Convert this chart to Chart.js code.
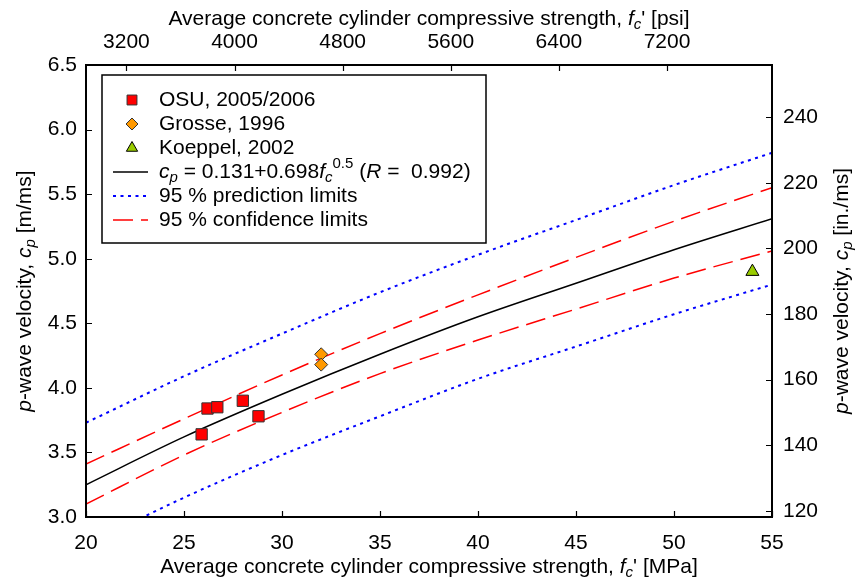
<!DOCTYPE html>
<html>
<head>
<meta charset="utf-8">
<script src="https://cdn.jsdelivr.net/npm/chart.js@4"></script>
<style>
  html, body { margin: 0; padding: 0; background: #fff; }
</style>
</head>
<body>
<canvas id="chart" width="856" height="578"></canvas>
<script>
const FONT = "'Liberation Sans', Arial, sans-serif";
const FONT_SIZE = 21;
const PSI_PER_MPA = 145.038;
const IN_PER_M = 39.3701;

// measured p-wave velocities
const osuStrength = [25.9, 26.2, 26.7, 28.0, 28.8];
const osuVelocity = [3.64, 3.84, 3.85, 3.90, 3.78];
const grosseStrength = [32.0, 32.0];
const grosseVelocity = [4.26, 4.18];
const koeppelStrength = [54.0];
const koeppelVelocity = [4.90];

// regression curve and its 95 % bands, sampled along strength
const curveStrength = [20, 25, 30, 35, 40, 45, 50, 55];
const fitVelocity = [3.25, 3.62, 3.95, 4.26, 4.55, 4.81, 5.07, 5.31];
const confUpper = [3.41, 3.76, 4.10, 4.42, 4.72, 5.01, 5.29, 5.55];
const confLower = [3.10, 3.48, 3.81, 4.11, 4.37, 4.61, 4.85, 5.06];
const predUpper = [3.73, 4.09, 4.42, 4.74, 5.03, 5.30, 5.57, 5.82];
const predLower = [2.78, 3.15, 3.48, 3.78, 4.07, 4.32, 4.57, 4.80];

// axis ticks
const mpaTicks = [20, 25, 30, 35, 40, 45, 50, 55];
const velocityTicks = [3.0, 3.5, 4.0, 4.5, 5.0, 5.5, 6.0, 6.5];
const psiTicks = [3200, 4000, 4800, 5600, 6400, 7200];
const inchTicks = [120, 140, 160, 180, 200, 220, 240];

const pts = (xs, ys) => xs.map((x, i) => ({ x: x, y: ys[i] }));

// text pieces: i = italic, sub / sup = sub- and superscript
const fcParts = [{ t: 'f', i: 1 }, { t: 'c', i: 1, sub: 1 }];
const xTitle = unit => [{ t: 'Average concrete cylinder compressive strength, ' }, ...fcParts, { t: "' [" + unit + ']' }];
const yTitle = unit => [{ t: 'p', i: 1 }, { t: '-wave velocity, ' }, { t: 'c', i: 1 }, { t: 'p', i: 1, sub: 1 }, { t: ' [' + unit + ']' }];

function partFont(p, size) {
  const s = (p.sub || p.sup) ? Math.round(size * 0.72) : size;
  return (p.i ? 'italic ' : '') + s + 'px ' + FONT;
}

function drawRich(ctx, parts, x, y, size, align) {
  let w = 0;
  parts.forEach(p => { ctx.font = partFont(p, size); w += ctx.measureText(p.t).width; });
  let cx = align === 'center' ? x - w / 2 : x;
  ctx.textAlign = 'left';
  ctx.textBaseline = 'middle';
  parts.forEach(p => {
    ctx.font = partFont(p, size);
    const dy = p.sub ? size * 0.28 : p.sup ? -size * 0.38 : 0;
    ctx.fillText(p.t, cx, y + dy);
    cx += ctx.measureText(p.t).width;
  });
}

const legendEntries = [
  { ds: 0, parts: [{ t: 'OSU, 2005/2006' }], r: 7 },
  { ds: 1, parts: [{ t: 'Grosse, 1996' }], r: 6 },
  { ds: 2, parts: [{ t: 'Koeppel, 2002' }], r: 6.5 },
  { ds: 3, parts: [{ t: 'c', i: 1 }, { t: 'p', i: 1, sub: 1 }, { t: ' = 0.131+0.698' }, ...fcParts, { t: '0.5', sup: 1 }, { t: ' (' }, { t: 'R', i: 1 }, { t: ' =  0.992)' }] },
  { ds: 4, parts: [{ t: '95 % prediction limits' }] },
  { ds: 6, parts: [{ t: '95 % confidence limits' }] }
];

const framePlugin = {
  id: 'frame',
  afterDatasetsDraw(chart) {
    const { ctx, chartArea: a, scales } = chart;
    const len = 6;
    ctx.save();
    ctx.strokeStyle = '#000';
    ctx.lineWidth = 1.2;
    ctx.beginPath();
    scales.x.ticks.forEach(t => {
      const px = Math.round(scales.x.getPixelForValue(t.value)) + 0.5;
      ctx.moveTo(px, a.bottom); ctx.lineTo(px, a.bottom - len);
    });
    scales.x2.ticks.forEach(t => {
      const px = Math.round(scales.x2.getPixelForValue(t.value)) + 0.5;
      ctx.moveTo(px, a.top); ctx.lineTo(px, a.top + len);
    });
    scales.y.ticks.forEach(t => {
      const py = Math.round(scales.y.getPixelForValue(t.value)) + 0.5;
      ctx.moveTo(a.left, py); ctx.lineTo(a.left + len, py);
    });
    scales.y2.ticks.forEach(t => {
      const py = Math.round(scales.y2.getPixelForValue(t.value)) + 0.5;
      ctx.moveTo(a.right, py); ctx.lineTo(a.right - len, py);
    });
    ctx.stroke();
    ctx.lineWidth = 2;
    ctx.strokeRect(a.left, a.top, a.right - a.left, a.bottom - a.top);
    ctx.restore();
  },
  afterDraw(chart) {
    const { ctx, chartArea: a } = chart;
    ctx.save();
    ctx.fillStyle = '#000';
    const midX = (a.left + a.right) / 2;
    const midY = (a.top + a.bottom) / 2;
    drawRich(ctx, xTitle('psi'), midX, 19, FONT_SIZE, 'center');
    drawRich(ctx, xTitle('MPa'), midX, 567, FONT_SIZE, 'center');
    ctx.save();
    ctx.translate(25, midY);
    ctx.rotate(-Math.PI / 2);
    drawRich(ctx, yTitle('m/ms'), 0, 0, FONT_SIZE, 'center');
    ctx.restore();
    ctx.save();
    ctx.translate(842, midY);
    ctx.rotate(-Math.PI / 2);
    drawRich(ctx, yTitle('in./ms'), 0, 0, FONT_SIZE, 'center');
    ctx.restore();

    // legend box
    const box = { left: 102, top: 75, right: 486, bottom: 243 };
    ctx.fillStyle = '#fff';
    ctx.fillRect(box.left, box.top, box.right - box.left, box.bottom - box.top);
    ctx.strokeStyle = '#000';
    ctx.lineWidth = 1.5;
    ctx.strokeRect(box.left, box.top, box.right - box.left, box.bottom - box.top);
    legendEntries.forEach((e, k) => {
      const ds = chart.data.datasets[e.ds];
      const y = 100 + k * 24;
      if (ds.showLine) {
        ctx.save();
        ctx.strokeStyle = ds.borderColor;
        ctx.lineWidth = ds.borderWidth;
        ctx.setLineDash(ds.borderDash || []);
        ctx.beginPath();
        ctx.moveTo(113, y); ctx.lineTo(148, y);
        ctx.stroke();
        ctx.restore();
      } else {
        ctx.fillStyle = ds.backgroundColor;
        ctx.strokeStyle = ds.borderColor;
        ctx.lineWidth = ds.borderWidth;
        Chart.helpers.drawPoint(ctx, { pointStyle: ds.pointStyle, radius: e.r, rotation: 0, borderWidth: ds.borderWidth }, 132, y);
      }
      ctx.fillStyle = '#000';
      drawRich(ctx, e.parts, 159, y, FONT_SIZE, 'left');
    });
    ctx.restore();
  }
};

const lineSet = (ys, color, width, dash) => ({
  data: pts(curveStrength, ys),
  showLine: true,
  borderColor: color,
  borderWidth: width,
  borderDash: dash,
  pointRadius: 0,
  cubicInterpolationMode: 'monotone'
});

const tickFont = { family: FONT, size: FONT_SIZE };

new Chart(document.getElementById('chart'), {
  type: 'scatter',
  data: {
    datasets: [
      { data: pts(osuStrength, osuVelocity), pointStyle: 'rect', pointRadius: 8,
        backgroundColor: '#ff0000', borderColor: '#333', borderWidth: 1 },
      { data: pts(grosseStrength, grosseVelocity), pointStyle: 'rectRot', pointRadius: 6.5,
        backgroundColor: '#ff9900', borderColor: '#333', borderWidth: 1 },
      { data: pts(koeppelStrength, koeppelVelocity), pointStyle: 'triangle', pointRadius: 7.5,
        backgroundColor: '#99cc00', borderColor: '#000', borderWidth: 1 },
      lineSet(fitVelocity, '#000', 1.5, []),
      lineSet(predUpper, '#0000ff', 2, [3, 4.5]),
      lineSet(predLower, '#0000ff', 2, [3, 4.5]),
      lineSet(confUpper, '#ff0000', 1.5, [20, 8]),
      lineSet(confLower, '#ff0000', 1.5, [20, 8])
    ]
  },
  options: {
    responsive: false,
    animation: false,
    devicePixelRatio: 1,
    layout: { padding: 0 },
    plugins: { legend: { display: false }, tooltip: { enabled: false } },
    scales: {
      x: {
        type: 'linear', position: 'bottom', min: 20, max: 55,
        afterBuildTicks: s => { s.ticks = mpaTicks.map(v => ({ value: v })); },
        afterFit: s => { s.height = 61; },
        grid: { display: false, drawTicks: false }, border: { display: false },
        ticks: { font: tickFont, color: '#000', padding: 14, maxRotation: 0, callback: v => String(v) }
      },
      x2: {
        type: 'linear', position: 'top', min: 20 * PSI_PER_MPA, max: 55 * PSI_PER_MPA,
        afterBuildTicks: s => { s.ticks = psiTicks.map(v => ({ value: v })); },
        afterFit: s => { s.height = 65; },
        grid: { display: false, drawTicks: false }, border: { display: false },
        ticks: { font: tickFont, color: '#000', padding: 10, maxRotation: 0, callback: v => String(v) }
      },
      y: {
        type: 'linear', position: 'left', min: 3.0, max: 6.5,
        afterBuildTicks: s => { s.ticks = velocityTicks.map(v => ({ value: v })); },
        afterFit: s => { s.width = 86; },
        grid: { display: false, drawTicks: false }, border: { display: false },
        ticks: { font: tickFont, color: '#000', padding: 9, callback: v => v.toFixed(1) }
      },
      y2: {
        type: 'linear', position: 'right', min: 3.0 * IN_PER_M, max: 6.5 * IN_PER_M,
        afterBuildTicks: s => { s.ticks = inchTicks.map(v => ({ value: v })); },
        afterFit: s => { s.width = 84; },
        grid: { display: false, drawTicks: false }, border: { display: false },
        ticks: { font: tickFont, color: '#000', padding: 11, callback: v => String(v) }
      }
    }
  },
  plugins: [framePlugin]
});
</script>
</body>
</html>
